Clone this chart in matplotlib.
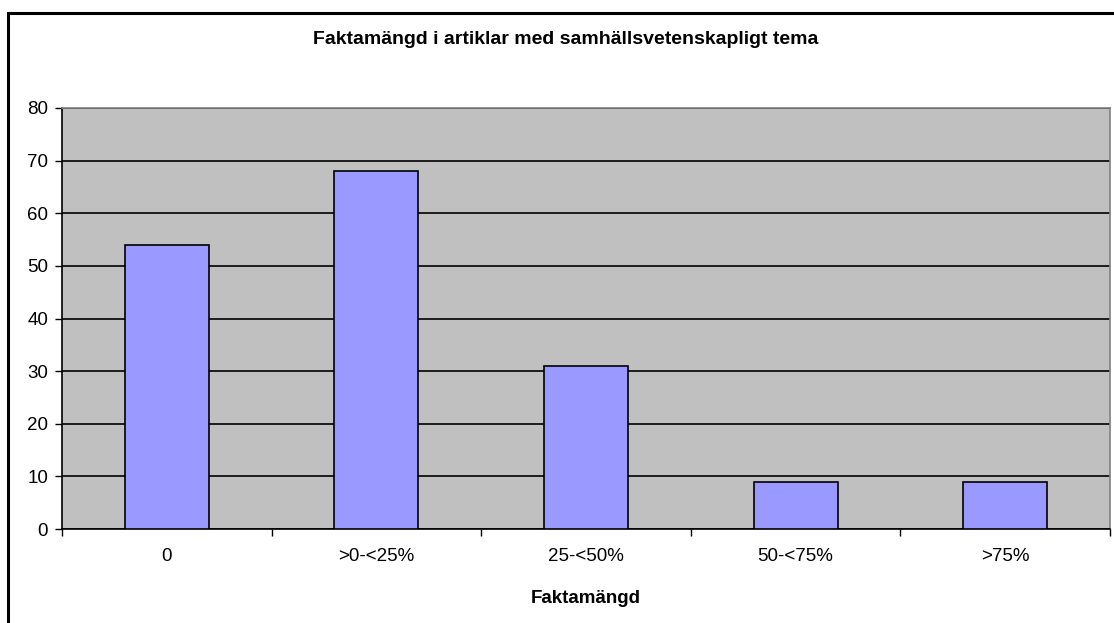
import matplotlib.pyplot as plt
from matplotlib.patches import Rectangle

plt.rcParams['font.family'] = ['Liberation Sans', 'DejaVu Sans']

kategorier = ['0', '>0-<25%', '25-<50%', '50-<75%', '>75%']
antal = [54, 68, 31, 9, 9]

fig = plt.figure(figsize=(11.14, 6.23), dpi=100)
ax = fig.add_axes([62 / 1114, 1 - 529 / 623, (1110 - 62) / 1114, (529 - 108) / 623])

# ram runt hela diagrammet
fig.patches.append(Rectangle((8 / 1114, -0.2), 1.2, 1.2 - 13 / 623,
                             transform=fig.transFigure, fill=False,
                             edgecolor='black', linewidth=2.2, zorder=10))

ax.set_facecolor('#C0C0C0')
x = range(len(kategorier))
ax.bar(x, antal, width=0.4, color='#9999FF', edgecolor='black', linewidth=1.2, zorder=3)

ax.set_xlim(-0.5, len(kategorier) - 0.5)
ax.set_ylim(0, 80)
ax.set_yticks(range(0, 81, 10))
ax.yaxis.grid(True, color='black', linewidth=1.2, zorder=1)
ax.set_axisbelow(True)

ax.set_xticks(x)
ax.set_xticklabels(kategorier, fontsize=13.5)
ax.tick_params(axis='x', length=0, pad=14)
ax.set_xticks([i - 0.5 for i in range(len(kategorier) + 1)], minor=True)
ax.tick_params(axis='x', which='minor', length=5, width=1, direction='out')
ax.tick_params(axis='y', length=5, width=1, direction='out', labelsize=13.5, pad=5)

for side in ['top', 'right']:
    ax.spines[side].set_color('#808080')
    ax.spines[side].set_linewidth(1.2)
for side in ['left', 'bottom']:
    ax.spines[side].set_color('black')
    ax.spines[side].set_linewidth(1.2)

ax.set_xlabel('Faktamängd', fontsize=13.5, fontweight='bold', labelpad=18)
fig.text(566 / 1114, 1 - 39 / 623,
         'Faktamängd i artiklar med samhällsvetenskapligt tema',
         ha='center', va='center', fontsize=14, fontweight='bold')

fig.savefig('out.png', dpi=100)
